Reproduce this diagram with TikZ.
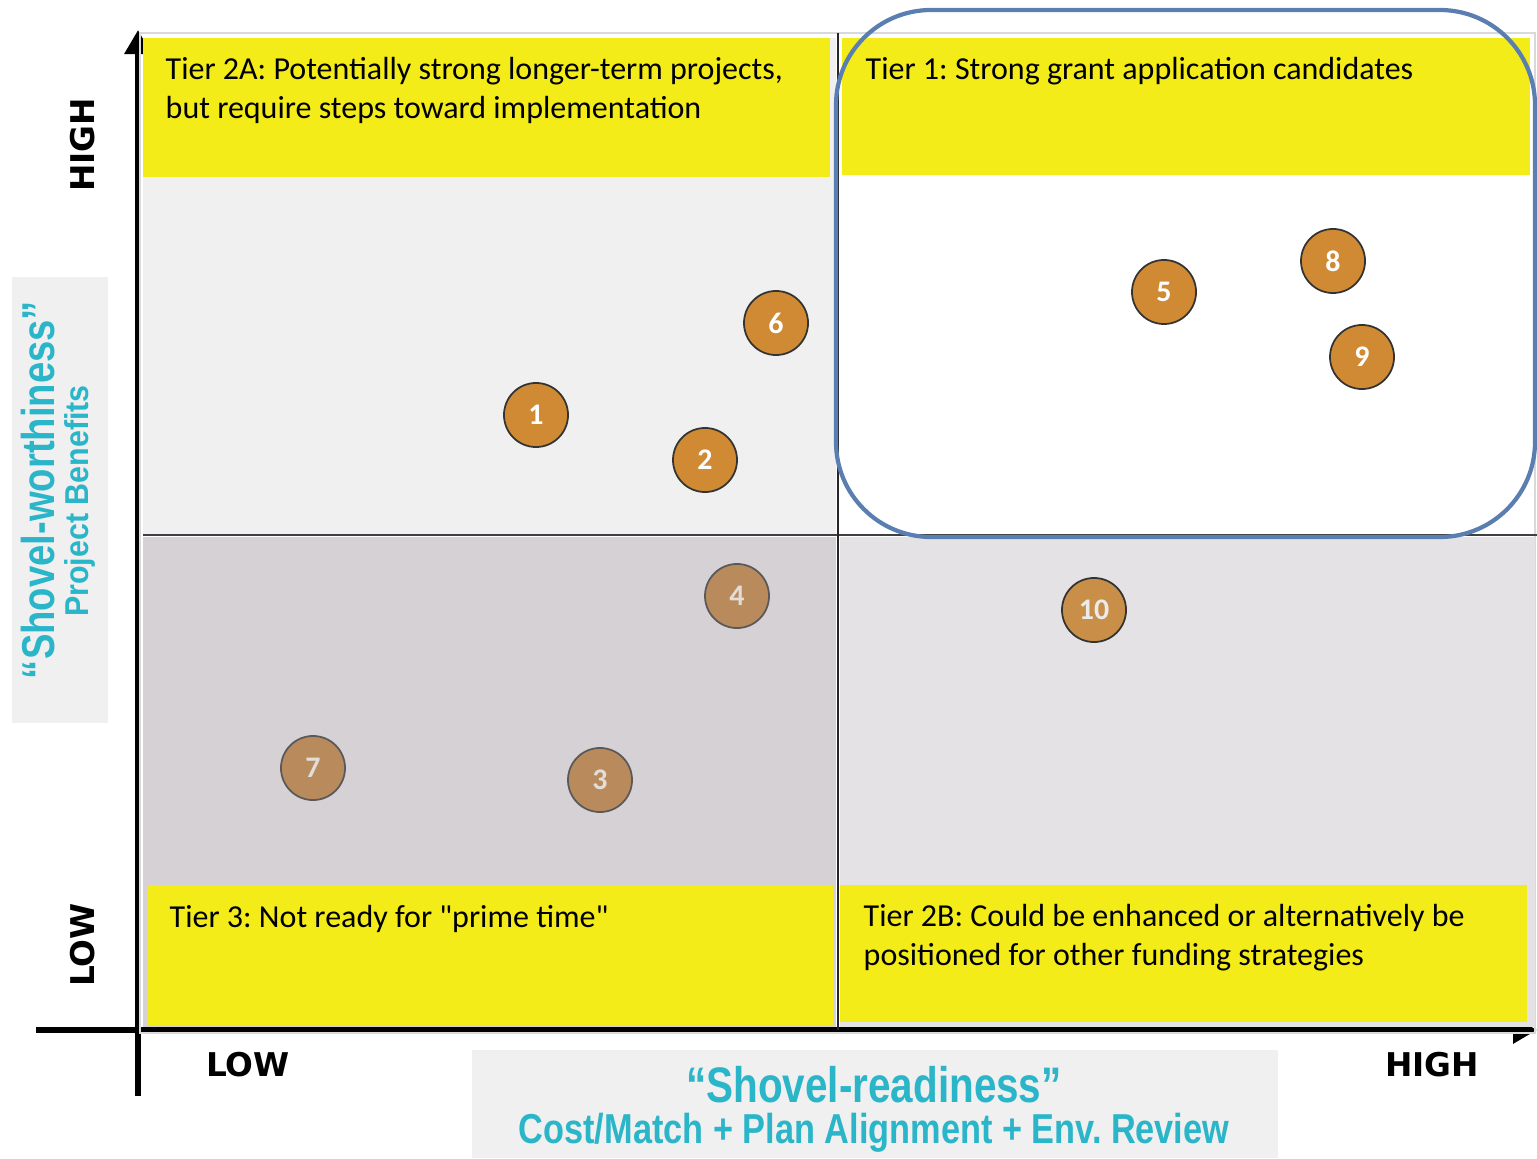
\documentclass[tikz,border=0pt]{standalone}
\usepackage{fontspec}
\usepackage{graphicx}
\setmainfont{Carlito}
\newfontfamily\arialfont{Liberation Sans}
\newfontfamily\heavyfont{DejaVu Sans}
\usetikzlibrary{arrows.meta}

\definecolor{tieryellow}{HTML}{F3EC19}
\definecolor{panelgray}{HTML}{F0F0F0}
\definecolor{lowgray}{HTML}{D5D1D4}
\definecolor{midgray}{HTML}{E4E2E4}
\definecolor{titlecyan}{HTML}{2BB5C9}
\definecolor{tierblue}{HTML}{5A7EB0}
\definecolor{projorange}{HTML}{D08A33}
\definecolor{projmuted}{HTML}{B98A5B}
\definecolor{projmid}{HTML}{C98F48}
\definecolor{numgray}{HTML}{E3DDD8}

\frenchspacing
\begin{document}
\begin{tikzpicture}[x=0.01cm, y=-0.01cm,
  band/.style={fill=tieryellow, draw=none},
  tiertext/.style={anchor=north west, inner sep=0pt, align=left,
    font=\fontsize{9.1}{11.1}\selectfont},
  proj/.style={circle, draw=black!80, line width=0.5pt, minimum size=0.64cm,
    inner sep=0pt, fill=projorange, text=white,
    font=\fontsize{8.5}{8.5}\selectfont\bfseries},
  weak/.style={proj, fill=projmuted, text=numgray, draw=black!65},
  axisline/.style={line width=1.7pt, black},
  axislbl/.style={inner sep=0pt, font=\heavyfont\bfseries\fontsize{9.3}{11}\selectfont},
  axistitle/.style={text=titlecyan, inner sep=0pt}
]
\useasboundingbox (0,0) rectangle (1537,1158);

% axes
\coordinate (ybot) at (138,1096);
\coordinate (ytop) at (138,30);
\coordinate (xleft) at (36,1030);
\coordinate (xend) at (1537,1030);
\draw[axisline, -{Triangle[length=0.24cm, width=0.26cm]}] (ybot) -- (ytop);
\draw[axisline, -{Triangle[length=0.24cm, width=0.26cm]}] (xleft) -- (xend);

% quadrants
\draw[black!15, line width=0.6pt] (140,33) rectangle (1535,1033);
\fill[panelgray] (143,38) rectangle (836,535);
\fill[lowgray] (143,537) rectangle (836,1027);
\fill[midgray] (840,537) rectangle (1535,1027);
\fill[band] (143,38) rectangle (830,177);
\fill[band] (842,38) rectangle (1530,175);
\fill[band] (147,885) rectangle (833,1025);
\fill[band] (840,885) rectangle (1527,1022);
\draw[black!75, line width=0.6pt] (143,535) -- (1537,535);
\draw[black!85, line width=0.6pt] (838,33) -- (838,1030);

% tier 1 frame
\draw[tierblue, line width=1.2pt, rounded corners=0.95cm] (836,10) rectangle (1535,537);

% tier labels
\node (tierTwoA) [tiertext] at (165,57) {Tier 2A: Potentially strong longer-term projects,\\but require steps toward implementation};
\node (tierOne) [tiertext] at (865,57) {Tier 1: Strong grant application candidates};
\node (tierThree) [tiertext] at (169,905) {Tier 3: Not ready for \textquotedbl prime time\textquotedbl};
\node (tierTwoB) [tiertext] at (863,904) {Tier 2B: Could be enhanced or alternatively be\\positioned for other funding strategies};

% projects
\node (p1) [proj] at (536,415) {1};
\node (p2) [proj] at (705,460) {2};
\node (p6) [proj] at (776,323) {6};
\node (p5) [proj] at (1164,292) {5};
\node (p8) [proj] at (1333,261) {8};
\node (p9) [proj] at (1362,357) {9};
\node (p10) [proj, fill=projmid, text=white!92!black] at (1094,610) {10};
\node (p4) [weak] at (737,596) {4};
\node (p7) [weak] at (313,768) {7};
\node (p3) [weak] at (600,780) {3};

% axis labels
\node (yhigh) [axislbl, rotate=90] at (83,145) {HIGH};
\node (ylow) [axislbl, rotate=90] at (83,945) {LOW};
\node (xlow) [axislbl] at (248,1065) {LOW};
\node (xhigh) [axislbl] at (1432,1065) {HIGH};

% axis titles
\fill[panelgray] (12,277) rectangle (108,723);
\fill[panelgray] (472,1050) rectangle (1278,1158);
\node (worth) [axistitle, rotate=90] at (38,490)
  {\scalebox{0.83}[1]{\arialfont\bfseries\fontsize{13.1}{14}\selectfont “Shovel-worthiness”}};
\node (benefits) [axistitle, rotate=90] at (80,501)
  {\scalebox{0.92}[1]{\arialfont\bfseries\fontsize{9.4}{11}\selectfont Project Benefits}};
\node (readiness) [axistitle] at (874,1085)
  {\scalebox{0.81}[1]{\arialfont\bfseries\fontsize{14.2}{15}\selectfont “Shovel-readiness”}};
\node (costs) [axistitle] at (874,1133)
  {\scalebox{0.82}[1]{\arialfont\bfseries\fontsize{11.9}{13}\selectfont Cost/Match + Plan Alignment + Env. Review}};
\end{tikzpicture}
\end{document}
